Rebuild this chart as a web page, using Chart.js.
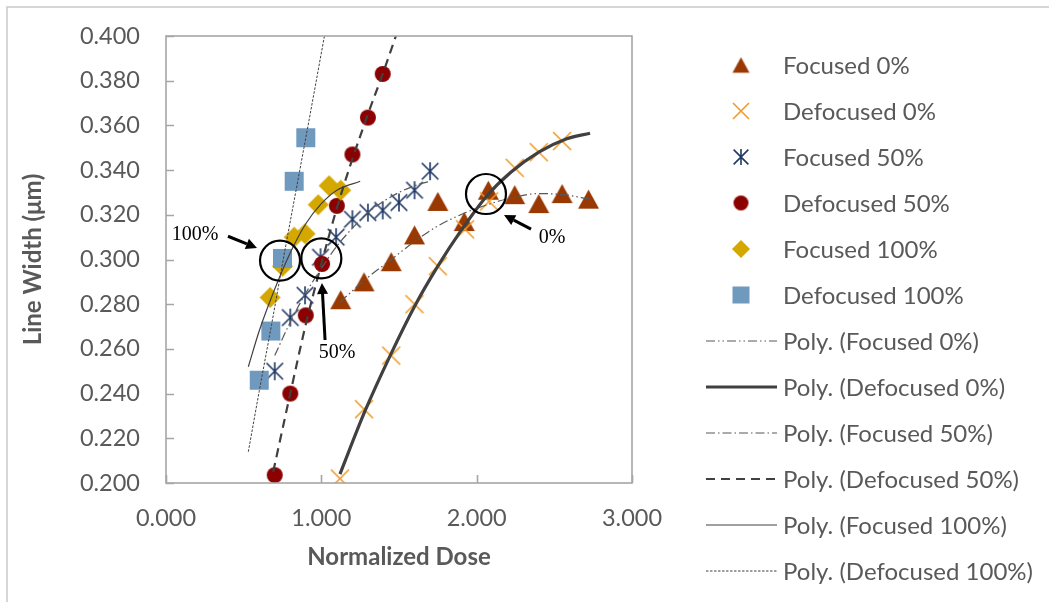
<!DOCTYPE html>
<html><head><meta charset="utf-8">
<script src="https://cdn.jsdelivr.net/npm/chart.js@4.4.1/dist/chart.umd.min.js"></script>
<style>html,body{margin:0;padding:0;background:#fff;}#wrap{width:1049px;height:602px;}</style>
</head><body><div id="wrap"><canvas id="c" width="1049" height="602"></canvas></div>
<script>
// ---------- data ----------
const seriesNames = ["Focused 0%","Defocused 0%","Focused 50%","Defocused 50%","Focused 100%","Defocused 100%"];
const trendNames = ["Poly. (Focused 0%)","Poly. (Defocused 0%)","Poly. (Focused 50%)","Poly. (Defocused 50%)","Poly. (Focused 100%)","Poly. (Defocused 100%)"];

const focused0Dose   = [1.125,1.275,1.450,1.600,1.750,1.920,2.075,2.245,2.400,2.550,2.720];
const focused0Width  = [0.282,0.290,0.299,0.311,0.326,0.317,0.331,0.329,0.325,0.3295,0.327];
const defocused0Dose = [1.120,1.275,1.450,1.600,1.750,1.925,2.080,2.245,2.400,2.550];
const defocused0Width= [0.202,0.233,0.257,0.280,0.297,0.3135,0.326,0.341,0.348,0.353];
const focused50Dose  = [0.700,0.800,0.895,0.995,1.095,1.200,1.300,1.395,1.500,1.600,1.700];
const focused50Width = [0.250,0.274,0.284,0.301,0.310,0.318,0.321,0.322,0.3255,0.331,0.3395];
const defocused50Dose  = [0.700,0.800,0.900,1.005,1.100,1.200,1.300,1.395];
const defocused50Width = [0.2035,0.240,0.275,0.298,0.324,0.347,0.3635,0.383];
const focused100Dose  = [0.670,0.750,0.825,0.895,0.980,1.050,1.125];
const focused100Width = [0.283,0.297,0.310,0.3115,0.3245,0.333,0.331];
const defocused100Dose  = [0.600,0.675,0.750,0.825,0.900];
const defocused100Width = [0.246,0.268,0.3005,0.335,0.3545];

// trendlines
const trendF0Dose  = [1.12,1.30,1.45,1.60,1.75,1.93,2.09,2.25,2.40,2.56,2.73];
const trendF0Width = [0.281,0.292,0.300,0.308,0.315,0.321,0.325,0.328,0.3295,0.329,0.327];
const trendD0Dose  = [1.12,1.28,1.45,1.60,1.75,1.90,2.06,2.22,2.40,2.58,2.73];
const trendD0Width = [0.204,0.232,0.258,0.279,0.297,0.313,0.328,0.339,0.348,0.354,0.3565];
const trendF50Dose  = [0.70,0.80,0.90,1.00,1.10,1.20,1.30,1.40,1.50,1.60,1.70];
const trendF50Width = [0.257,0.272,0.285,0.296,0.306,0.314,0.321,0.326,0.330,0.333,0.335];
const trendD50Dose  = [0.69,0.80,0.90,1.00,1.10,1.20,1.30,1.40,1.48];
const trendD50Width = [0.205,0.240,0.271,0.298,0.323,0.345,0.365,0.384,0.400];
const trendF100Dose  = [0.53,0.60,0.69,0.80,0.90,1.00,1.10,1.25];
const trendF100Width = [0.252,0.268,0.285,0.303,0.316,0.325,0.331,0.335];
const trendD100Dose  = [0.53,0.60,0.68,0.76,0.84,0.92,1.02];
const trendD100Width = [0.214,0.241,0.271,0.302,0.332,0.362,0.400];

const xTicks = [0,1,2,3];
const yTickStep = 0.02;

// annotations: [dose, width]
const annCircles = [[0.734,0.2995],[1.000,0.3005],[2.060,0.3293]];
const annArrows  = [[[0.399,0.3104],[0.586,0.3051]],[[1.024,0.264],[1.004,0.2895]],[[2.350,0.3136],[2.176,0.3199]]];
const annTexts   = [["100%",0.187,0.311],["50%",1.101,0.2582],["0%",2.485,0.3096]];

// ---------- helpers ----------
function toXY(xs, ys){ return xs.map((x,i)=>({x:x, y:ys[i]})); }

function makeMarker(type, size, color){
  const pad = 4, W = Math.ceil(size + pad*2);
  const cv = document.createElement('canvas'); cv.width = W; cv.height = W;
  const c = cv.getContext('2d'); const m = W/2, h = size/2;
  c.fillStyle = color; c.strokeStyle = color;
  if (type==='triangle'){ const th = size*0.9;
    c.beginPath(); c.moveTo(m, m-th/2); c.lineTo(m+h, m+th/2); c.lineTo(m-h, m+th/2); c.closePath(); c.fill(); }
  else if (type==='cross'){ c.lineWidth=1.6; c.beginPath();
    c.moveTo(m-h,m-h); c.lineTo(m+h,m+h); c.moveTo(m-h,m+h); c.lineTo(m+h,m-h); c.stroke(); }
  else if (type==='asterisk'){ c.lineWidth=1.6; c.beginPath(); const k=h*0.92;
    c.moveTo(m-k,m-k); c.lineTo(m+k,m+k); c.moveTo(m-k,m+k); c.lineTo(m+k,m-k);
    c.moveTo(m,m-h); c.lineTo(m,m+h); c.stroke(); }
  else if (type==='circle'){ c.beginPath(); c.arc(m,m,h,0,Math.PI*2); c.fill(); }
  else if (type==='diamond'){ c.beginPath(); c.moveTo(m,m-h); c.lineTo(m+h,m); c.lineTo(m,m+h); c.lineTo(m-h,m); c.closePath(); c.fill(); }
  else if (type==='square'){ c.fillRect(m-h,m-h,size,size); }
  return cv;
}

const markerDefs = [
  {type:'triangle', color:'#993800', size:21, lsize:17},
  {type:'cross',    color:'#F09A28', size:18, lsize:16},
  {type:'asterisk', color:'#1F3864', size:18, lsize:16},
  {type:'circle',   color:'#8B0000', size:16, lsize:15},
  {type:'diamond',  color:'#D4A800', size:21, lsize:18},
  {type:'square',   color:'#7099BE', size:19, lsize:17}
];
const lineDefs = [
  {color:'#595959', width:1.2, dash:[9,3,1.5,3,1.5,3]},
  {color:'#404040', width:3.2, dash:[]},
  {color:'#595959', width:1.2, dash:[9,3,1.5,3]},
  {color:'#404040', width:2.2, dash:[9,6]},
  {color:'#404040', width:1.2, dash:[]},
  {color:'#404040', width:1, dash:[2.5,1.5]}
];

const markerData = [
  toXY(focused0Dose,focused0Width), toXY(defocused0Dose,defocused0Width),
  toXY(focused50Dose,focused50Width), toXY(defocused50Dose,defocused50Width),
  toXY(focused100Dose,focused100Width), toXY(defocused100Dose,defocused100Width)
];
const trendData = [
  toXY(trendF0Dose,trendF0Width), toXY(trendD0Dose,trendD0Width),
  toXY(trendF50Dose,trendF50Width), toXY(trendD50Dose,trendD50Width),
  toXY(trendF100Dose,trendF100Width), toXY(trendD100Dose,trendD100Width)
];

const plotMarkers = markerDefs.map(d=>makeMarker(d.type,d.size,d.color));
const legendMarkers = markerDefs.map(d=>makeMarker(d.type,d.lsize,d.color));

const datasets = [];
markerData.forEach((pts,i)=>{
  datasets.push({label:seriesNames[i], data:pts, showLine:false, pointStyle:plotMarkers[i],
    pointRadius:10, backgroundColor:markerDefs[i].color, borderColor:markerDefs[i].color, order:20-i});
});
trendData.forEach((pts,i)=>{
  datasets.push({label:trendNames[i], data:pts, showLine:true, pointRadius:0,
    borderColor:lineDefs[i].color, borderWidth:lineDefs[i].width, borderDash:lineDefs[i].dash,
    cubicInterpolationMode:'monotone', fill:false, order:5-i});
});

const TXT = '#595959';
const FONT = 'Lato';

const framePlugin = {
  id:'frame',
  beforeDraw(chart){
    const ctx = chart.ctx; ctx.save();
    ctx.fillStyle='#fff'; ctx.fillRect(0,0,chart.width,chart.height);
    ctx.strokeStyle='#c9c9c9'; ctx.lineWidth=1.5;
    ctx.beginPath(); ctx.moveTo(7,chart.height+2); ctx.lineTo(7,7); ctx.lineTo(chart.width+2,7); ctx.stroke();
    ctx.restore();
  },
  afterDatasetsDraw(chart){
    const ctx = chart.ctx, a = chart.chartArea, xs = chart.scales.x, ys = chart.scales.y;
    ctx.save();
    ctx.strokeStyle='#a6a6a6'; ctx.lineWidth=1.6;
    ctx.strokeRect(a.left, a.top, a.right-a.left, a.bottom-a.top);
    ctx.beginPath();
    ys.ticks.forEach(t=>{ const y=Math.round(ys.getPixelForValue(t.value))+0.5; ctx.moveTo(a.left,y); ctx.lineTo(a.left+8,y); });
    xs.ticks.forEach(t=>{ const x=Math.round(xs.getPixelForValue(t.value))+0.5; ctx.moveTo(x,a.bottom); ctx.lineTo(x,a.bottom-8); });
    ctx.stroke();
    // annotations
    ctx.strokeStyle='#000'; ctx.fillStyle='#000'; ctx.lineWidth=2.2;
    annCircles.forEach(([dx,dy])=>{ ctx.beginPath(); ctx.arc(xs.getPixelForValue(dx), ys.getPixelForValue(dy), 20, 0, Math.PI*2); ctx.stroke(); });
    annArrows.forEach(([p0,p1])=>{
      const x0=xs.getPixelForValue(p0[0]), y0=ys.getPixelForValue(p0[1]);
      const x1=xs.getPixelForValue(p1[0]), y1=ys.getPixelForValue(p1[1]);
      const ang=Math.atan2(y1-y0,x1-x0), L=11, Wd=5.5;
      const bx=x1-Math.cos(ang)*L, by=y1-Math.sin(ang)*L;
      ctx.lineWidth=3; ctx.beginPath(); ctx.moveTo(x0,y0); ctx.lineTo(bx,by); ctx.stroke();
      ctx.beginPath(); ctx.moveTo(x1,y1);
      ctx.lineTo(bx+Math.sin(ang)*Wd, by-Math.cos(ang)*Wd);
      ctx.lineTo(bx-Math.sin(ang)*Wd, by+Math.cos(ang)*Wd); ctx.closePath(); ctx.fill();
    });
    ctx.font='20px "Liberation Serif"'; ctx.textAlign='center'; ctx.textBaseline='middle';
    annTexts.forEach(([s,dx,dy])=>ctx.fillText(s, xs.getPixelForValue(dx), ys.getPixelForValue(dy)));
    ctx.restore();
  },
  afterDraw(chart){
    const ctx = chart.ctx; ctx.save();
    ctx.font = '24px '+FONT; ctx.fillStyle = TXT; ctx.textBaseline='middle'; ctx.textAlign='left';
    const names = seriesNames.concat(trendNames);
    names.forEach((name,i)=>{
      const y = 65 + i*46;
      if (i<6){ const m=legendMarkers[i]; ctx.drawImage(m, 741-m.width/2, y-m.height/2); }
      else { const d=lineDefs[i-6]; ctx.save(); ctx.strokeStyle=d.color; ctx.lineWidth=d.width; ctx.setLineDash(d.dash);
        ctx.beginPath(); ctx.moveTo(706,y); ctx.lineTo(777,y); ctx.stroke(); ctx.restore(); }
      ctx.fillText(name, 783, y+1);
    });
    ctx.restore();
  }
};

new Chart(document.getElementById('c'), {
  type:'scatter',
  data:{datasets:datasets},
  options:{
    responsive:false, devicePixelRatio:1, animation:false, events:[],
    layout:{padding:{left:0, top:36, right:417, bottom:0}},
    plugins:{legend:{display:false}, tooltip:{enabled:false}},
    scales:{
      x:{type:'linear', min:0, max:3, afterFit:s=>{s.height=119;},
        grid:{display:false, drawTicks:false}, border:{display:false},
        afterBuildTicks:s=>{ s.ticks = xTicks.map(v=>({value:v})); },
        ticks:{callback:v=>Number(v).toFixed(3), font:{family:FONT,size:23.5}, color:TXT, padding:21, maxRotation:0},
        title:{display:true, text:'Normalized Dose', font:{family:FONT,size:24,weight:'bold'}, color:TXT, padding:{top:0,bottom:30}}
      },
      y:{type:'linear', min:0.2, max:0.4, afterFit:s=>{s.width=166; s.paddingTop=14; s.paddingBottom=14;},
        grid:{display:false, drawTicks:false}, border:{display:false},
        ticks:{stepSize:yTickStep, callback:v=>Number(v).toFixed(3), font:{family:FONT,size:23.5}, color:TXT, padding:26},
        title:{display:true, text:'Line Width (μm)', font:{family:FONT,size:24,weight:'bold'}, color:TXT, padding:{top:19,bottom:0}}
      }
    }
  },
  plugins:[framePlugin]
});
</script></body></html>
